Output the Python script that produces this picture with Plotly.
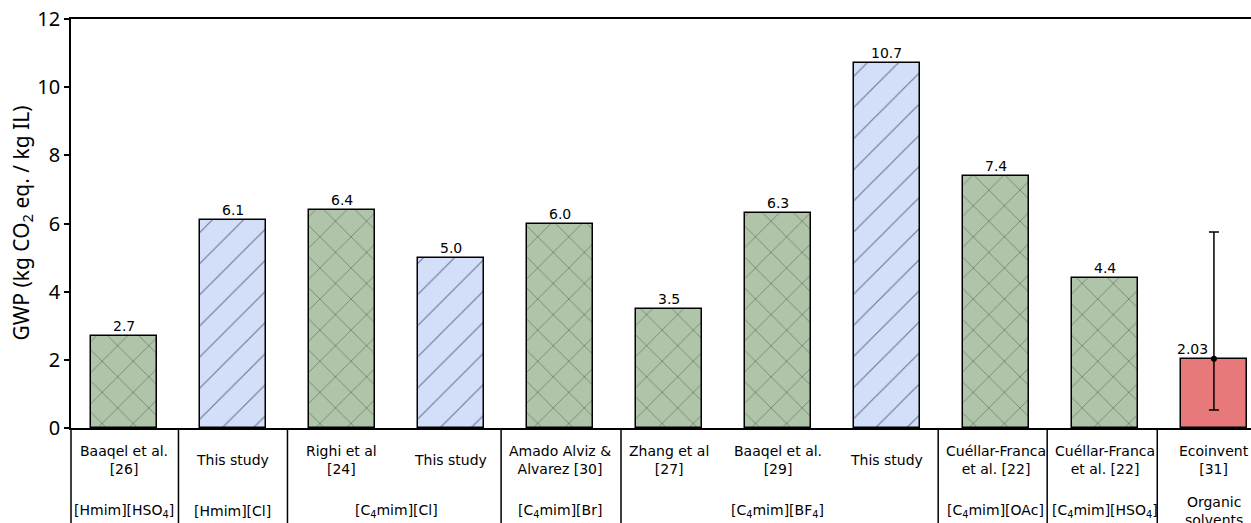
import plotly.graph_objects as go

# GWP results per ionic liquid study (kg CO2 eq. / kg IL)
sources = ["Baaqel et al.<br>[26]", "This study", "Righi et al<br>[24]", "This study",
           "Amado Alviz &<br>Alvarez [30]", "Zhang et al<br>[27]", "Baaqel et al.<br>[29]",
           "This study", "Cuéllar-Franca<br>et al. [22]", "Cuéllar-Franca<br>et al. [22]",
           "Ecoinvent<br>[31]"]
gwp = [2.7, 6.1, 6.4, 5.0, 6.0, 3.5, 6.3, 10.7, 7.4, 4.4, 2.03]
kind = ["lit", "study", "lit", "study", "lit", "lit", "lit", "study", "lit", "lit", "ref"]
value_labels = ["2.7", "6.1", "6.4", "5.0", "6.0", "3.5", "6.3", "10.7", "7.4", "4.4", "2.03"]

# ionic liquid groups: (label, first bar index, last bar index)
il_groups = [("[Hmim][HSO<sub>4</sub>]", 0, 0), ("[Hmim][Cl]", 1, 1),
             ("[C<sub>4</sub>mim][Cl]", 2, 3), ("[C<sub>4</sub>mim][Br]", 4, 4),
             ("[C<sub>4</sub>mim][BF<sub>4</sub>]", 5, 7), ("[C<sub>4</sub>mim][OAc]", 8, 8),
             ("[C<sub>4</sub>mim][HSO<sub>4</sub>]", 9, 9), ("Organic<br>solvents", 10, 10)]

# range of the organic solvent reference value
err_low, err_high = 0.53, 5.75
yticks = [0, 2, 4, 6, 8, 10, 12]

style = {
    "lit": dict(fill="#b0c4a9", hatch="#4c644f", shape="x"),
    "study": dict(fill="#d3dff8", hatch="#6a7693", shape="/"),
    "ref": dict(fill="#e8797a", hatch="#e8797a", shape=""),
}

fig = go.Figure()
for k in ["lit", "study", "ref"]:
    idx = [i for i, kk in enumerate(kind) if kk == k]
    st = style[k]
    fig.add_trace(go.Bar(
        x=idx, y=[gwp[i] for i in idx], width=0.6,
        marker=dict(
            color=st["fill"],
            line=dict(color="black", width=1.5),
            pattern=dict(shape=st["shape"], fgcolor=st["hatch"], bgcolor=st["fill"],
                         size=22, solidity=0.05, fillmode="replace"),
        ),
        showlegend=False, hoverinfo="skip",
    ))

# error bar on the ecoinvent reference
ref_i = kind.index("ref")
fig.add_trace(go.Scatter(
    x=[ref_i], y=[gwp[ref_i]], mode="markers",
    marker=dict(color="black", size=6),
    error_y=dict(type="data", symmetric=False,
                 array=[err_high - gwp[ref_i]], arrayminus=[gwp[ref_i] - err_low],
                 color="black", thickness=1.5, width=5),
    showlegend=False, hoverinfo="skip",
))

annotations = []
label_font = dict(family="DejaVu Sans", size=14, color="black")
for i, (v, t) in enumerate(zip(gwp, value_labels)):
    dx = -0.2 if kind[i] == "ref" else 0
    annotations.append(dict(x=i + dx, y=v, xref="x", yref="y", text=t, showarrow=False,
                            yanchor="bottom", yshift=0, font=label_font))

# table under the axis: source row and ionic liquid row
for i, s in enumerate(sources):
    annotations.append(dict(x=i, y=-0.078, xref="x", yref="paper", text=s, showarrow=False,
                            yanchor="middle", font=label_font))
for lab, a, b in il_groups:
    annotations.append(dict(x=(a + b) / 2, y=-0.203, xref="x", yref="paper", text=lab,
                            showarrow=False, yanchor="middle", font=label_font))

annotations.append(dict(x=0, y=0.5, xref="paper", yref="paper", xshift=-50,
                        text="GWP (kg CO<sub>2</sub> eq. / kg IL)", textangle=-90,
                        showarrow=False, xanchor="center", yanchor="middle",
                        font=dict(family="Noto Sans", size=21, color="black")))

shapes = []
dividers = [0.5, 1.5, 3.46, 4.56, 7.47, 8.47, 9.48]
for d in dividers:
    shapes.append(dict(type="line", xref="x", yref="paper", x0=d, x1=d, y0=0, y1=-0.3,
                       line=dict(color="black", width=1.5)))
shapes.append(dict(type="line", xref="paper", yref="paper", x0=0, x1=0, y0=0, y1=-0.3,
                   line=dict(color="black", width=1.5)))

fig.update_layout(
    width=1251, height=523,
    margin=dict(l=71, r=0, t=19, b=95),
    plot_bgcolor="white", paper_bgcolor="white",
    bargap=0, barmode="overlay",
    annotations=annotations, shapes=shapes,
    xaxis=dict(range=[-0.486, 10.34], showticklabels=False, ticks="", showgrid=False,
               zeroline=False, showline=True, mirror=True, linecolor="black", linewidth=1.5),
    yaxis=dict(range=[0, 12], tickvals=yticks, ticks="outside", ticklen=5, tickwidth=1.5,
               tickcolor="black", showgrid=False, zeroline=False, showline=True,
               linecolor="black", linewidth=1.5,
               tickfont=dict(family="Noto Sans", size=20, color="black")),
)

fig.write_html("out.html")
